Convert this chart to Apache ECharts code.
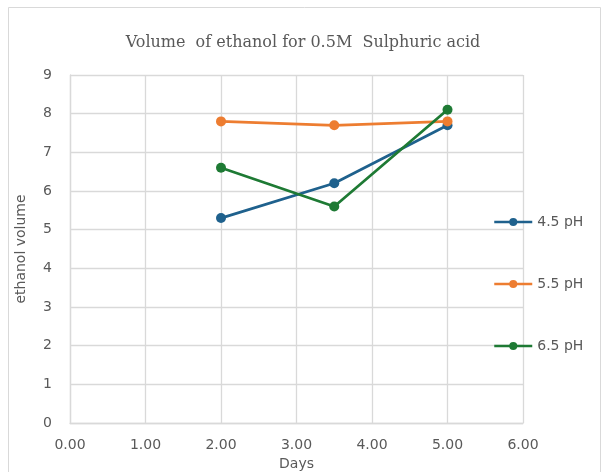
<!DOCTYPE html>
<html>
<head>
<meta charset="utf-8">
<script src="https://cdn.jsdelivr.net/npm/echarts@6/dist/echarts.min.js"></script>
<style>
  html, body { margin: 0; padding: 0; background: #fff; }
  #chart { width: 606px; height: 472px; }
</style>
</head>
<body>
<div id="chart"></div>
<script>
// Sampling days and measured ethanol volume for each pH level
const days = [2.0, 3.5, 5.0];
const seriesNames = ['4.5 pH', '5.5 pH', '6.5 pH'];
const ph45 = [5.3, 6.2, 7.7];
const ph55 = [7.8, 7.7, 7.8];
const ph65 = [6.6, 5.6, 8.1];
const colors = ['#1f618d', '#ed7d31', '#1e7a34'];

const axisText = { color: '#595959', fontFamily: 'DejaVu Sans', fontSize: 14 };
const gridColor = '#d9d9d9';

function buildSeries(name, values, color) {
  return {
    name: name,
    type: 'line',
    data: days.map((d, i) => [d, values[i]]),
    symbol: 'circle',
    symbolSize: 10,
    lineStyle: { color: color, width: 2.75 },
    itemStyle: { color: color },
    emphasis: { disabled: true }
  };
}

const chart = echarts.init(document.getElementById('chart'));
chart.setOption({
  animation: false,
  backgroundColor: '#fff',
  graphic: [{
    type: 'rect',
    shape: { x: 8.5, y: 7.5, width: 592, height: 480 },
    style: { fill: 'none', stroke: '#d9d9d9', lineWidth: 1 },
    silent: true
  }],
  title: {
    text: 'Volume  of ethanol for 0.5M  Sulphuric acid',
    left: 'center',
    top: 30,
    textStyle: { fontFamily: 'DejaVu Serif', fontSize: 16, fontWeight: 'normal', color: '#595959' }
  },
  grid: { left: 70, right: 83, top: 75, bottom: 49, outerBoundsMode: 'none', containLabel: false },
  legend: {
    orient: 'vertical',
    left: 488,
    top: 210,
    itemWidth: 38,
    itemHeight: 10,
    itemGap: 48,
    data: seriesNames,
    lineStyle: { width: 2.5 },
    textStyle: { color: '#595959', fontFamily: 'DejaVu Sans', fontSize: 14 },
    selectedMode: false
  },
  xAxis: {
    type: 'value',
    min: 0,
    max: 6,
    interval: 1,
    name: 'Days',
    nameLocation: 'middle',
    nameGap: 34,
    nameTextStyle: axisText,
    axisLine: { show: true, lineStyle: { color: gridColor, width: 1.3 } },
    axisTick: { show: false },
    axisLabel: Object.assign({ margin: 15, formatter: v => v.toFixed(2) }, axisText),
    splitLine: { show: true, lineStyle: { color: gridColor, width: 1.3 } }
  },
  yAxis: {
    type: 'value',
    min: 0,
    max: 9,
    interval: 1,
    name: 'ethanol volume',
    nameLocation: 'middle',
    nameGap: 42,
    nameTextStyle: axisText,
    axisLine: { show: true, lineStyle: { color: gridColor, width: 1.3 } },
    axisTick: { show: false },
    axisLabel: Object.assign({ margin: 18 }, axisText),
    splitLine: { show: true, lineStyle: { color: gridColor, width: 1.3 } }
  },
  series: [
    buildSeries(seriesNames[0], ph45, colors[0]),
    buildSeries(seriesNames[1], ph55, colors[1]),
    buildSeries(seriesNames[2], ph65, colors[2])
  ]
});
</script>
</body>
</html>
